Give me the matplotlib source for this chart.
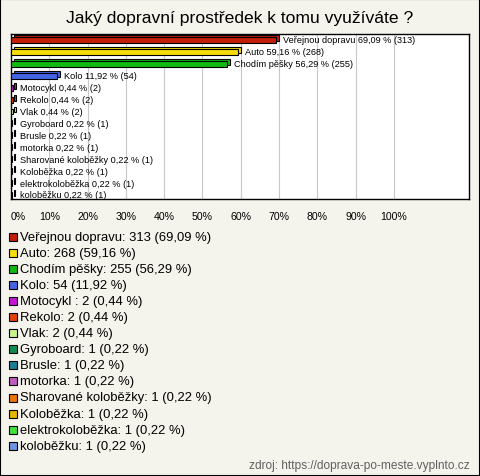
import matplotlib
matplotlib.use("Agg")
import matplotlib.pyplot as plt
from matplotlib.patches import Rectangle
from matplotlib.transforms import offset_copy

plt.rcParams['font.family'] = ['Liberation Sans', 'DejaVu Sans']

names = ["Veřejnou dopravu", "Auto", "Chodím pěšky", "Kolo", "Motocykl ", "Rekolo", "Vlak",
         "Gyroboard", "Brusle", "motorka", "Sharované koloběžky", "Koloběžka",
         "elektrokoloběžka", "koloběžku"]
counts = [313, 268, 255, 54, 2, 2, 2, 1, 1, 1, 1, 1, 1, 1]
percents = [69.09, 59.16, 56.29, 11.92, 0.44, 0.44, 0.44, 0.22, 0.22, 0.22, 0.22, 0.22, 0.22, 0.22]
colors = ["#c41e0a", "#f7dc0c", "#12b812", "#4464e4", "#c414d4", "#e4400c", "#c8f48c",
          "#0e8a52", "#1c7c94", "#c05cc0", "#e8740c", "#e4b400", "#44e03c", "#6c94e0"]
ticks = [0, 10, 20, 30, 40, 50, 60, 70, 80, 90, 100]

W, H = 480, 477
bg = "#f4f3ec"
fig = plt.figure(figsize=(W / 100, H / 100), dpi=100, facecolor=bg)

def fx(px):
    return px / W

def fy(py):
    return 1 - py / H

ax = fig.add_axes([fx(11), fy(200), fx(469) - fx(11), fy(35) - fy(200)])
ax.set_facecolor("white")

ypos = list(range(len(names)))
# 3d-ish depth behind the bars
depth = offset_copy(ax.transData, fig=fig, x=3, y=2, units='dots')
ax.barh(ypos, percents, height=0.5, color=colors, edgecolor="black", linewidth=0.8,
        transform=depth, zorder=2)
ax.barh(ypos, percents, height=0.5, color=colors, edgecolor="black", linewidth=0.8, zorder=3)

for y, n, p, c in zip(ypos, names, percents, counts):
    lbl = "%s %s %% (%d)" % (n.strip(), ("%.2f" % p).replace(".", ","), c)
    ax.text(p + 2.0, y, lbl, va="center", ha="left", fontsize=6.6, zorder=4)

ax.set_xlim(0, 119.6)
ax.set_ylim(len(names) - 1 + 0.34, -0.5)
ax.set_xticks(ticks)
ax.set_xticklabels(["%d%%" % t for t in ticks], fontsize=7.6)
ax.get_xticklabels()[0].set_horizontalalignment("left")
ax.set_yticks([])
ax.tick_params(axis="x", length=0, pad=9)
ax.grid(axis="x", color="#c8c8c8", linewidth=0.8, zorder=0)
ax.set_axisbelow(True)
for s in ax.spines.values():
    s.set_linewidth(1)
    s.set_color("black")

fig.text(0.5, fy(19), "Jaký dopravní prostředek k tomu využíváte ?", ha="center", va="center",
         fontsize=12.6)

# legend
for i, (n, c, p, col) in enumerate(zip(names, counts, percents, colors)):
    yc = 238 + i * 16.05
    fig.patches.append(Rectangle((fx(9), fy(yc + 4)), fx(8), fy(0) - fy(8), facecolor=col,
                                 edgecolor="black", linewidth=0.8, transform=fig.transFigure))
    txt = "%s: %d (%s %%)" % (n, c, ("%.2f" % p).replace(".", ","))
    fig.text(fx(20), fy(yc), txt, ha="left", va="center", fontsize=9.4)

fig.text(fx(470), fy(466), "zdroj: https://doprava-po-meste.vyplnto.cz", ha="right", va="center",
         fontsize=8.6, color="#606060")

fig.patches.append(Rectangle((0, 0), 1, 1, fill=False, edgecolor="black", linewidth=1.5,
                             transform=fig.transFigure))

fig.savefig("out.png", dpi=100, facecolor=bg)
